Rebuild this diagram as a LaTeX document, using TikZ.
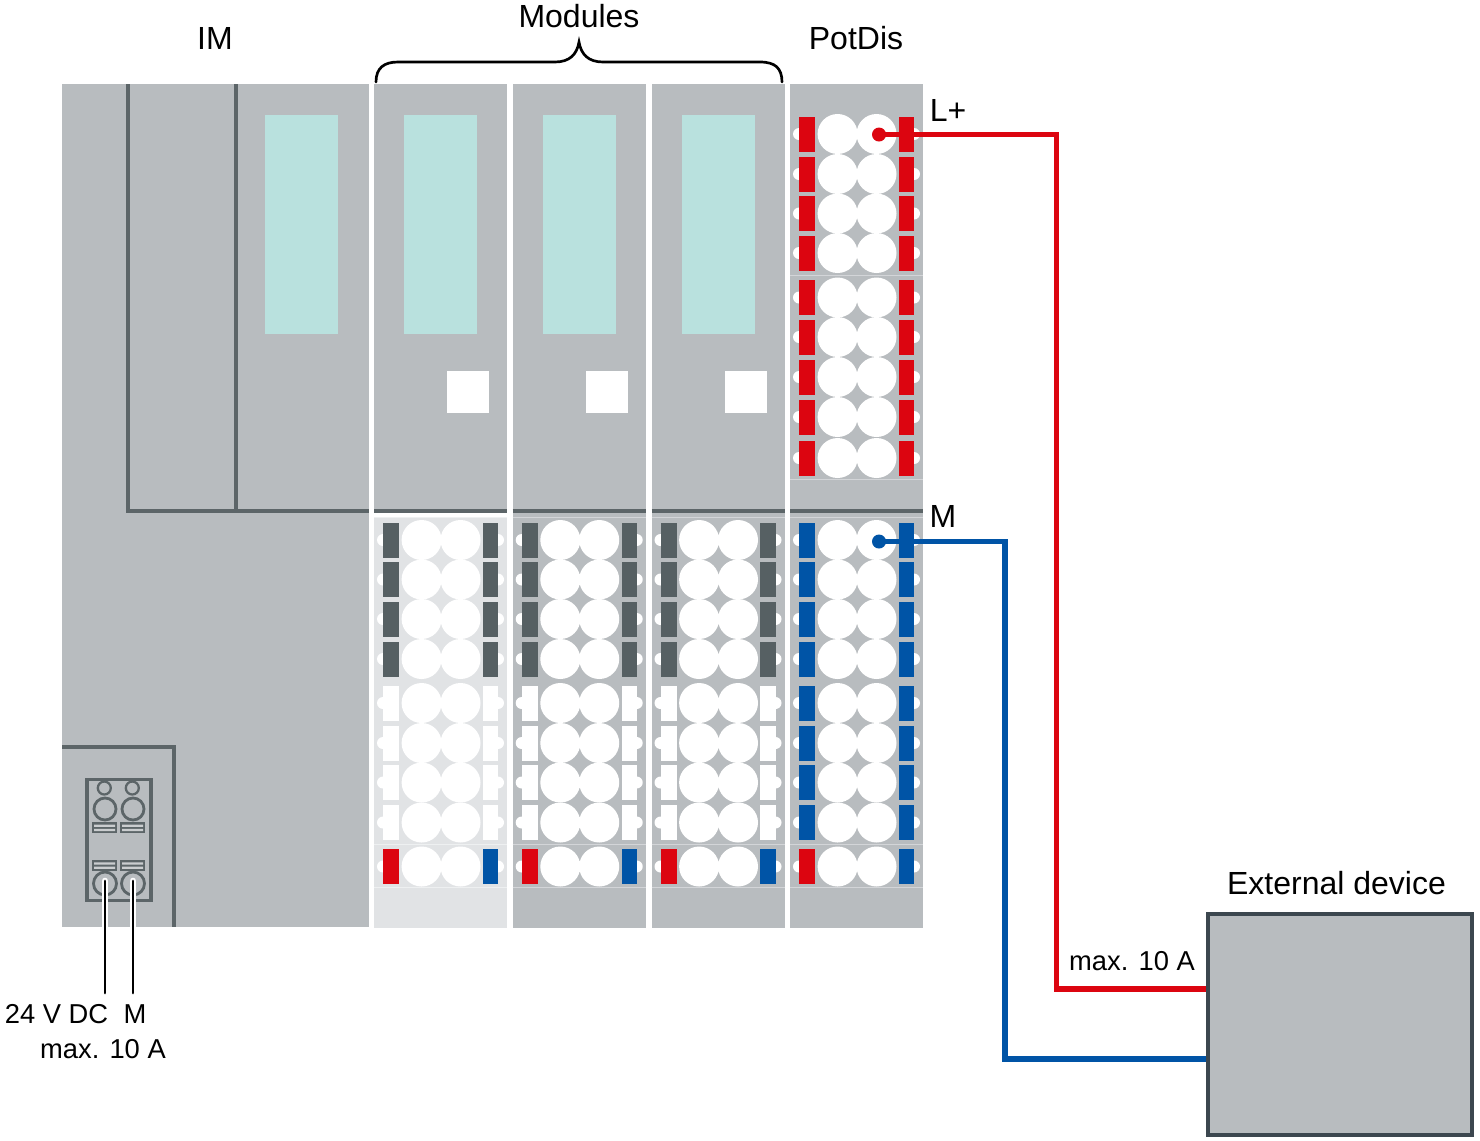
\documentclass[tikz,border=0pt]{standalone}
\usepackage{fontspec}
\setmainfont{Liberation Sans}
\usepackage{xcolor}
\usetikzlibrary{positioning}
\definecolor{bodygray}{RGB}{184,188,191}
\definecolor{lightbody}{RGB}{225,227,229}
\definecolor{darkline}{RGB}{92,101,104}
\definecolor{darkterm}{RGB}{86,96,99}
\definecolor{displaygreen}{RGB}{185,225,222}
\definecolor{potred}{RGB}{220,5,16}
\definecolor{potblue}{RGB}{0,84,166}
\definecolor{boxedge}{RGB}{60,71,79}
\colorlet{seamgray}{lightbody!65!bodygray}
\colorlet{seamlight}{white!45!lightbody}
\tikzset{
  label/.style={inner sep=0pt, font=\fontsize{24}{26}\selectfont},
  smalllabel/.style={inner sep=0pt, font=\fontsize{20.5}{24}\selectfont},
  divider/.style={draw=darkline, line width=3pt},
  connline/.style={draw=darkline, line width=2.4pt},
  seam/.style={line width=0.6pt},
  redwire/.style={draw=potred, line width=3.9pt},
  bluewire/.style={draw=potblue, line width=3.9pt},
  feedwire/.style={draw=black, line width=2.2pt, line cap=round}
}
% one row of a terminal block: x of module, y of row, colour left, colour right
\newcommand{\termrow}[4]{
  \fill[white] (#1+9,#2) circle (6) (#1+124,#2) circle (6);
  \fill[#3] (#1+9.3,#2-17.5) rectangle (#1+25,#2+17.5);
  \fill[#4] (#1+108.8,#2-17.5) rectangle (#1+124.4,#2+17.5);
  \fill[white] (#1+47.6,#2) circle (20) (#1+86.5,#2) circle (20);
}
% small plug contact: centre x, top y
\newcommand{\plugslot}[2]{
  \fill[darkline] (#1-12.8,#2) rectangle (#1+12.2,#2+11);
  \fill[bodygray!75!white] (#1-10.8,#2+2.3) rectangle (#1+10.2,#2+4.6) (#1-10.8,#2+6.6) rectangle (#1+10.2,#2+8.9);
}
\begin{document}
\begin{tikzpicture}[x=0.75pt, y=-0.75pt]
\useasboundingbox (0,0) rectangle (1480,1140);

% interface module
\fill[bodygray] (62,84) rectangle (369,927);
\fill[displaygreen] (265,115) rectangle (338,334);
\draw[divider] (128,84) -- (128,511) -- (369,511);
\draw[divider] (236,84) -- (236,511);
\draw[divider] (62,747) -- (174,747) -- (174,927);

% supply plug
\draw[connline] (87,779.5) rectangle (151,900.5);
\foreach \cx in {105,133} {
  \draw[connline, line width=1.7pt] (\cx-0.7,788) circle (6.5);
  \draw[connline, line width=2.1pt] (\cx,809) circle (11);
  \draw[connline, line width=2.1pt] (\cx,883.5) circle (11.5);
  \plugslot{\cx}{822.3}
  \plugslot{\cx}{860}
  \draw[white, line width=5pt, line cap=round] (\cx,881) -- (\cx,927);
}

% modules
\foreach \mx/\lower/\edge/\top in {374/lightbody/seamlight/517.5, 512.7/bodygray/seamgray/511, 651.5/bodygray/seamgray/511} {
  \fill[bodygray] (\mx,84) rectangle (\mx+133,511);
  \fill[\lower] (\mx,\top) rectangle (\mx+133,928);
  \fill[displaygreen] (\mx+30,115) rectangle (\mx+103,334);
  \fill[white] (\mx+73,371) rectangle (\mx+115,413);
  \draw[divider] (\mx,511) -- (\mx+133,511);
  \draw[\edge, seam] (\mx,517) -- (\mx+133,517) (\mx,844.5) -- (\mx+133,844.5) (\mx,887.5) -- (\mx+133,887.5);
  \foreach \ry in {540,579.5,619,659} {\termrow{\mx}{\ry}{darkterm}{darkterm}}
  \foreach \ry in {703,743,782.5,822.5} {\termrow{\mx}{\ry}{white}{white}}
  \termrow{\mx}{866.5}{potred}{potblue}
}

% potential distributor
\fill[bodygray] (790,84) rectangle (923,928);
\draw[seamgray, seam] (790,275.5) -- (923,275.5) (790,479) -- (923,479);
\draw[divider] (790,511) -- (923,511);
\draw[seamgray, seam] (790,517) -- (923,517) (790,844.5) -- (923,844.5) (790,887.5) -- (923,887.5);
\foreach \ry in {134,174,213.5,253,297.5,337,377,417,458} {\termrow{790}{\ry}{potred}{potred}}
\foreach \ry in {540,579.5,619,659,703,743,782.5,822.5} {\termrow{790}{\ry}{potblue}{potblue}}
\termrow{790}{866.5}{potred}{potblue}

% device and wires
\node[draw=boxedge, line width=3pt, fill=bodygray, minimum width=198pt, minimum height=165.5pt, inner sep=0pt] (extdev) at (1340,1024.5) {};
\node[circle, fill=potred, inner sep=0pt, minimum size=10.5pt] (lplusdot) at (879,134.5) {};
\node[circle, fill=potblue, inner sep=0pt, minimum size=10.5pt] (mdot) at (879,541.5) {};
\coordinate (redin) at (extdev.west |- 0,989);
\coordinate (bluein) at (extdev.west |- 0,1059);
\draw[redwire] (lplusdot.center) -- (1056.5,134.5) -- (1056.5,989) -- (redin);
\draw[bluewire] (mdot.center) -- (1005,541.5) -- (1005,1059) -- (bluein);

\coordinate (feedl) at (105,993);
\coordinate (feedr) at (133,993);
\draw[feedwire] (105,881) -- (feedl);
\draw[feedwire] (133,881) -- (feedr);

% brace
\draw[line width=2pt, line cap=round] (376,82) .. controls (376,68) and (384,62) .. (398,62) -- (555,62) .. controls (570,62) and (577,54) .. (579,42) .. controls (581,54) and (588,62) .. (603,62) -- (760,62) .. controls (775,62) and (782,68) .. (782,82);

% labels
\node[label] (imlabel) at (215,38.5) {IM};
\node[label] (modlabel) at (579,16) {Modules};
\node[label] (potlabel) at (856,38) {PotDis};
\node[label] (lpluslabel) at (948,110.5) {L+};
\node[label] (mlabel) at (943,516) {M};
\node[label] (devlabel) at (1336.5,883) {External device};
\node[smalllabel] (maxright) at (1132,961) {max. 10 A};
\node[smalllabel] (dclabel) at (56.5,1014) {24 V DC};
\node[smalllabel] (mfeed) at (135,1014) {M};
\node[smalllabel] (maxleft) at (103,1049) {max. 10 A};
\end{tikzpicture}
\end{document}
